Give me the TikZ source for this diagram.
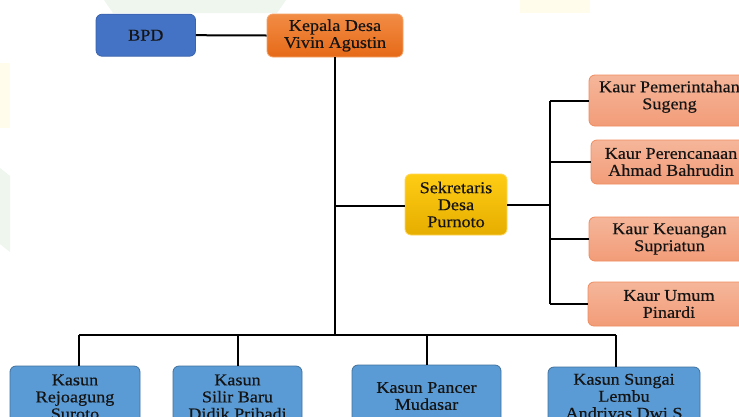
\documentclass[tikz,border=0pt]{standalone}
\usepackage{fontspec}
\setmainfont{Liberation Serif}[FakeStretch=1.1,FakeBold=0.4]
\definecolor{bpdfill}{HTML}{4472C4}
\definecolor{bpdline}{HTML}{3B64AD}
\definecolor{kepTop}{HTML}{F28C45}
\definecolor{kepBot}{HTML}{E66A18}
\definecolor{kepLine}{HTML}{F4A46A}
\definecolor{sekTop}{HTML}{FFCC14}
\definecolor{sekBot}{HTML}{E6AE00}
\definecolor{sekLine}{HTML}{FFD75A}
\definecolor{kaurTop}{HTML}{F5B69A}
\definecolor{kaurBot}{HTML}{F29C78}
\definecolor{kaurLine}{HTML}{F08C60}
\definecolor{kasunFill}{HTML}{5B9BD5}
\definecolor{kasunLine}{HTML}{41719C}
\definecolor{wmGreen}{HTML}{EEF6EE}
\definecolor{wmYellow}{HTML}{FFFCEC}
\definecolor{txt}{HTML}{141414}
\begin{document}
\begin{tikzpicture}[x=1pt,y=-1pt,
  box/.style={rounded corners=6pt, align=center, inner sep=0pt, line width=0.8pt,
    font=\fontsize{16.5}{17}\selectfont, text=txt},
  bpdbox/.style={box, fill=bpdfill, draw=bpdline},
  kepbox/.style={box, top color=kepTop, bottom color=kepBot, draw=kepLine},
  sekbox/.style={box, top color=sekTop, bottom color=sekBot, draw=sekLine},
  kaurbox/.style={box, top color=kaurTop, bottom color=kaurBot, draw=kaurLine},
  kasunbox/.style={box, fill=kasunFill, draw=kasunLine},
  conn/.style={draw=black, line width=2pt}
]
\useasboundingbox (0,0) rectangle (739,416);
\clip (0,0) rectangle (739,416);
\fill[white] (0,0) rectangle (739,416);
% faint watermark
\fill[wmGreen] (104,0) -- (286,0) -- (277,13) -- (113,13) -- cycle;
\fill[wmYellow] (520,0) rectangle (590,13);
\fill[wmYellow] (0,63) rectangle (10,128);
\fill[wmGreen] (0,168) -- (10,176) -- (10,252) -- (0,244) -- cycle;

% nodes
\node[bpdbox, minimum width=99.5pt, minimum height=42pt] (bpd) at (145.8,35.2) {BPD};
\node[kepbox, minimum width=136pt, minimum height=43pt] (kep) at (335,35.5) {Kepala Desa\\Vivin Agustin};
\node[sekbox, minimum width=102pt, minimum height=61pt] (sek) at (456,204.5) {Sekretaris\\Desa\\Purnoto};
\node[kaurbox, minimum width=161pt, minimum height=51pt] (k1) at (669.5,100.5) {Kaur Pemerintahan\\Sugeng\\[-6pt]\mbox{}};
\node[kaurbox, minimum width=160pt, minimum height=44pt] (k2) at (671,162) {Kaur Perencanaan\\Ahmad Bahrudin};
\node[kaurbox, minimum width=161pt, minimum height=44pt] (k3) at (669.5,239) {Kaur Keuangan\\Supriatun};
\node[kaurbox, minimum width=162pt, minimum height=44pt] (k4) at (669,304) {Kaur Umum\\Pinardi};
\node[kasunbox, minimum width=130pt, minimum height=62pt] (s1) at (75,397) {Kasun\\Rejoagung\\Suroto};
\node[kasunbox, minimum width=129pt, minimum height=62pt] (s2) at (237.5,397) {Kasun\\Silir Baru\\Didik Pribadi};
\node[kasunbox, minimum width=149pt, minimum height=62pt] (s3) at (426.5,396) {Kasun Pancer\\Mudasar};
\node[kasunbox, minimum width=152pt, minimum height=62pt] (s4) at (624,398) {Kasun Sungai\\Lembu\\Andriyas Dwi S};

% helper coordinates
\coordinate (trunkS) at (335,206);
\coordinate (bus) at (335,335);
\coordinate (kv) at (550,204.5);
\coordinate (b1) at (79,335);
\coordinate (b2) at (238,335);
\coordinate (b3) at (427,335);
\coordinate (b4) at (616,335);

% connectors
\draw[conn] (bpd.east) -- (kep.west);
\draw[conn] (kep.south) -- (bus);
\draw[conn] (trunkS) -- (trunkS -| sek.west);
\draw[conn] (sek.east) -- (kv);
\draw[conn] (kv |- k1.west) -- (kv |- k4.west);
\draw[conn] (kv |- k1.west) -- (k1.west);
\draw[conn] (kv |- k2.west) -- (k2.west);
\draw[conn] (kv |- k3.west) -- (k3.west);
\draw[conn] (kv |- k4.west) -- (k4.west);
\draw[conn] (b1) -- (b4);
\draw[conn] (b1) -- (b1 |- s1.north);
\draw[conn] (b2) -- (b2 |- s2.north);
\draw[conn] (b3) -- (b3 |- s3.north);
\draw[conn] (b4) -- (b4 |- s4.north);
\end{tikzpicture}
\end{document}
